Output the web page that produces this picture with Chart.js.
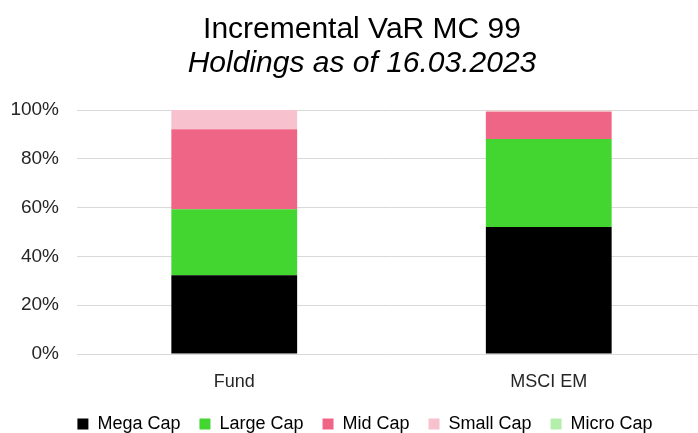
<!DOCTYPE html>
<html>
<head>
<meta charset="utf-8">
<script src="https://cdn.jsdelivr.net/npm/chart.js@4"></script>
<style>
  html, body { margin: 0; padding: 0; background: #fff; }
  #frame { position: relative; width: 698px; height: 433px; overflow: hidden; }
  #box { position: absolute; left: 0; top: 0; width: 728px; height: 443px; }
</style>
</head>
<body>
<div id="frame"><div id="box"><canvas id="varChart"></canvas></div></div>
<script>
// categories and series (share of incremental VaR, %)
const categories = ['Fund', 'MSCI EM'];
const megaCap = [32.3, 52.0];
const largeCap = [27.0, 36.1];
const midCap = [32.8, 11.2];
const smallCap = [7.9, 0.5];
const microCap = [0.0, 0.2];
const yTicks = [0, 20, 40, 60, 80, 100];

const titleText = 'Incremental VaR MC 99';
const subtitleText = 'Holdings as of 16.03.2023';

const FONT = "'Liberation Sans', Arial, sans-serif";

function series(label, data, color) {
    return { label: label, data: data, backgroundColor: color, borderWidth: 0 };
}

// the original centres title and legend a bit right of the canvas centre
const nudgeBoxes = {
    id: 'nudgeBoxes',
    afterLayout(chart) {
        chart.boxes.forEach(b => {
            let dx = 0;
            if (b === chart.legend) dx = 12;
            else if (b.position === 'top') dx = 9;
            b.left += dx;
            b.right += dx;
        });
    }
};

new Chart(document.getElementById('varChart').getContext('2d'), {
    type: 'bar',
    data: {
        labels: categories,
        datasets: [
            series('Mega Cap', megaCap, '#000000'),
            series('Large Cap', largeCap, '#43d530'),
            series('Mid Cap', midCap, '#ee6586'),
            series('Small Cap', smallCap, '#f8c1ce'),
            series('Micro Cap', microCap, '#b3efaa')
        ]
    },
    plugins: [nudgeBoxes],
    options: {
        responsive: true,
        maintainAspectRatio: false,
        animation: false,
        layout: { padding: { left: 0, right: 22, top: 0, bottom: 0 } },
        datasets: { bar: { categoryPercentage: 1.0, barPercentage: 0.4 } },
        plugins: {
            title: {
                display: true,
                text: titleText,
                color: '#000',
                font: { family: FONT, size: 30, weight: 'normal', lineHeight: 1.0 },
                padding: { top: 15, bottom: 4 }
            },
            subtitle: {
                display: true,
                text: subtitleText,
                color: '#000',
                font: { family: FONT, size: 30, style: 'italic', weight: 'normal', lineHeight: 1.0 },
                padding: { top: 0, bottom: 31 }
            },
            legend: {
                position: 'bottom',
                labels: {
                    color: '#000',
                    font: { family: FONT, size: 18 },
                    boxWidth: 11,
                    boxHeight: 11,
                    padding: 19
                }
            },
            tooltip: { enabled: false }
        },
        scales: {
            x: {
                stacked: true,
                grid: { display: false, drawTicks: false },
                border: { display: false },
                ticks: { color: '#262626', font: { family: FONT, size: 18 }, padding: 17 },
                afterFit: (scale) => { scale.height = 42; }
            },
            y: {
                stacked: true,
                min: 0,
                max: 100,
                afterBuildTicks: (scale) => { scale.ticks = yTicks.map(v => ({ value: v })); },
                grid: { color: '#d9d9d9', lineWidth: 1, drawTicks: false },
                border: { display: false },
                ticks: {
                    color: '#262626',
                    font: { family: FONT, size: 19 },
                    padding: 18,
                    callback: (v) => v + '%'
                },
                afterFit: (scale) => { scale.width = 77; }
            }
        }
    }
});
</script>
</body>
</html>
